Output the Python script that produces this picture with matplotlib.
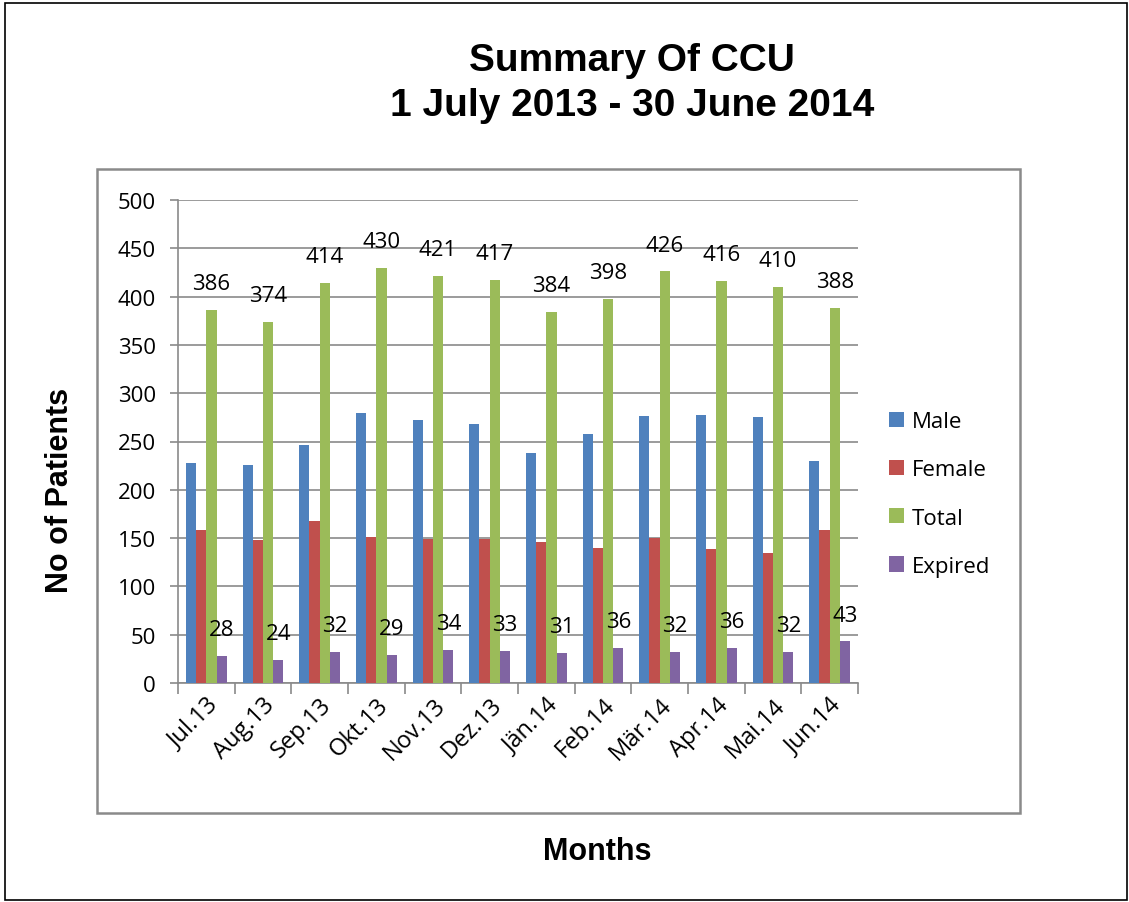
import numpy as np
import matplotlib
matplotlib.use("Agg")
import matplotlib.pyplot as plt
from matplotlib.patches import Rectangle

# ==========================================================
# DADOS
# ==========================================================
meses = ['Jul.13', 'Aug.13', 'Sep.13', 'Okt.13', 'Nov.13', 'Dez.13',
         'Jän.14', 'Feb.14', 'Mär.14', 'Apr.14', 'Mai.14', 'Jun.14']
male = [228, 226, 246, 279, 272, 268, 238, 258, 276, 277, 275, 230]
female = [158, 148, 168, 151, 149, 149, 146, 140, 150, 139, 135, 158]
total = [386, 374, 414, 430, 421, 417, 384, 398, 426, 416, 410, 388]
expired = [28, 24, 32, 29, 34, 33, 31, 36, 32, 36, 32, 43]

series = [('Male', male, '#4F81BD'),
          ('Female', female, '#C0504D'),
          ('Total', total, '#9BBB59'),
          ('Expired', expired, '#8064A2')]
com_rotulo = ['Total', 'Expired']

FONTE = 'Open Sans'
W, H = 1129, 903
fig = plt.figure(figsize=(W / 100, H / 100), dpi=100)

# bordas externa e interna
fig.patches.append(Rectangle((5 / W, 1 - 901 / H), 1122 / W, 897 / H,
                             transform=fig.transFigure, fill=False,
                             edgecolor='black', lw=1.2))
fig.patches.append(Rectangle((97 / W, 1 - 814 / H), 923 / W, 644 / H,
                             transform=fig.transFigure, fill=False,
                             edgecolor='#8a8a8a', lw=1.8))

ax = fig.add_axes([178 / W, 1 - 684 / H, 680 / W, 483 / H])

x = np.arange(len(meses))
largura = 0.18
for i, (nome, valores, cor) in enumerate(series):
    pos = x + (i - 1.5) * largura
    ax.bar(pos, valores, largura, color=cor, label=nome, zorder=3)
    if nome in com_rotulo:
        for xi, v in zip(pos, valores):
            ax.annotate(str(v), (xi, v), xytext=(0, 19), textcoords='offset points',
                        ha='center', va='center', fontsize=16, family=FONTE)

ax.set_xlim(-0.5, len(meses) - 0.5)
ax.set_ylim(0, 500)
ax.set_yticks(range(0, 501, 50))
ax.set_xticks(x)
ax.set_xticklabels(meses, rotation=45, ha='right', va='top',
                   rotation_mode='anchor', family=FONTE, fontsize=17)
ax.set_xticks(np.arange(-0.5, len(meses)), minor=True)
ax.tick_params(axis='x', which='major', length=0, pad=7)
ax.tick_params(axis='x', which='minor', length=8, width=1.2, color='#8a8a8a')
ax.tick_params(axis='y', length=6, width=1.2, color='#8a8a8a', pad=10,
               labelsize=16)
for t in ax.get_yticklabels():
    t.set_family(FONTE)

ax.grid(axis='y', color='#8a8a8a', lw=1.2, zorder=0)
ax.set_axisbelow(True)
for s in ['top', 'right']:
    ax.spines[s].set_visible(False)
for s in ['left', 'bottom']:
    ax.spines[s].set_color('#8a8a8a')
    ax.spines[s].set_linewidth(1.2)

# titulos
fig.text(632 / W, 1 - 61 / H, 'Summary Of CCU', ha='center', va='center',
         fontsize=28, fontweight='bold', family='Liberation Sans')
fig.text(632 / W, 1 - 106 / H, '1 July 2013 - 30 June 2014', ha='center', va='center',
         fontsize=28, fontweight='bold', family='Liberation Sans')
fig.text(60 / W, 1 - 490 / H, 'No of Patients', ha='center', va='center', rotation=90,
         fontsize=22, fontweight='bold', family='Liberation Sans')
fig.text(597 / W, 1 - 852 / H, 'Months', ha='center', va='center',
         fontsize=22, fontweight='bold', family='Liberation Sans')

# legenda
fig.legend(loc='center left', bbox_to_anchor=(889 / W, 1 - 495 / H), frameon=False,
           prop={'family': FONTE, 'size': 16}, handlelength=0.68, handleheight=0.68,
           handletextpad=0.35, labelspacing=1.22, borderpad=0, borderaxespad=0)

plt.savefig('out.png', dpi=100)
plt.close()
